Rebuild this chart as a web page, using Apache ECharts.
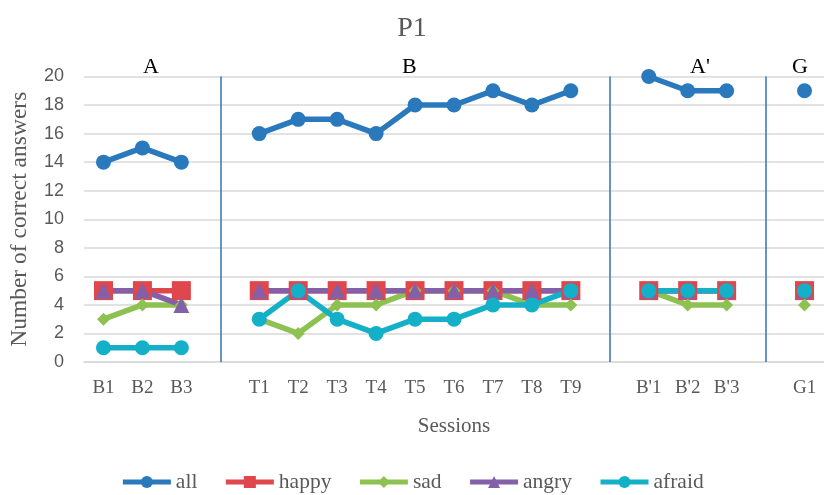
<!DOCTYPE html>
<html><head><meta charset="utf-8">
<script src="https://cdn.jsdelivr.net/npm/echarts@6/dist/echarts.min.js"></script>
<style>html,body{margin:0;padding:0;background:#fff}#c{width:824px;height:495px}</style>
</head><body><div id="c"></div>
<script>
const categories = ['B1','B2','B3','', 'T1','T2','T3','T4','T5','T6','T7','T8','T9',' ', "B'1","B'2","B'3",'  ','G1'];
const allVals    = [14,15,14,null,16,17,17,16,18,18,19,18,19,null,20,19,19,null,19];
const happyVals  = [5,5,5,null,5,5,5,5,5,5,5,5,5,null,5,5,5,null,5];
const sadVals    = [3,4,4,null,3,2,4,4,5,5,5,4,4,null,5,4,4,null,4];
const angryVals  = [5,5,4,null,5,5,5,5,5,5,5,5,5,null,5,5,5,null,5];
const afraidVals = [1,1,1,null,3,5,3,2,3,3,4,4,5,null,5,5,5,null,5];
const phaseLabels = ['A','B',"A'",'G'];
const dividerIdx = [3,13,17];

const serif = '"Liberation Serif","DejaVu Serif",serif';
const sans = '"Liberation Sans","Noto Sans",sans-serif';
const chart = echarts.init(document.getElementById('c'));
function mk(name, data, color, symbol, size, extra){
  return Object.assign({
    name, type:'line', data, connectNulls:false, symbol, symbolSize:size,
    lineStyle:{color, width:5.5}, itemStyle:{color, opacity:1}, color,
    emphasis:{disabled:true}, z:2
  }, extra||{});
}
chart.setOption({
  animation:false,
  title:{text:'P1', left:'center', top:10, textStyle:{fontFamily:serif, fontSize:28, fontWeight:'normal', color:'#595959'}},
  grid:{left:82, top:76.5, width:747, height:285.5, containLabel:false},
  xAxis:{type:'category', data:categories, boundaryGap:true,
    axisLine:{show:true, lineStyle:{color:'#d9d9d9', width:1.5}}, axisTick:{show:false},
    axisLabel:{fontFamily:serif, fontSize:19, color:'#595959', margin:17, interval:0},
    name:'Sessions', nameLocation:'middle', nameGap:54,
    nameTextStyle:{fontFamily:serif, fontSize:21, color:'#595959'}},
  yAxis:{type:'value', min:0, max:20, interval:2,
    axisLine:{show:false}, axisTick:{show:false},
    splitLine:{lineStyle:{color:'#d9d9d9', width:1.5}},
    axisLabel:{fontFamily:sans, fontSize:18, color:'#595959', margin:20},
    name:'Number of correct answers', nameLocation:'middle', nameGap:52,
    nameTextStyle:{fontFamily:serif, fontSize:23.5, color:'#595959'}},
  legend:{bottom:-3, left:'center', itemWidth:48, itemHeight:15, itemGap:26,
    lineStyle:{width:5},
    textStyle:{fontFamily:serif, fontSize:21.5, color:'#595959'},
    data:['all','happy','sad','angry','afraid']},
  graphic:[
    {type:'text', left:143, top:56, style:{text:phaseLabels[0], font:'22px '+serif, fill:'#000'}},
    {type:'text', left:402, top:56, style:{text:phaseLabels[1], font:'22px '+serif, fill:'#000'}},
    {type:'text', left:690, top:56, style:{text:phaseLabels[2], font:'22px '+serif, fill:'#000'}},
    {type:'text', left:792, top:56, style:{text:phaseLabels[3], font:'22px '+serif, fill:'#000'}}
  ],
  series:[
    mk('all', allVals, '#2A79BC', 'circle', 15, {
      markLine:{silent:true, symbol:'none', label:{show:false},
        lineStyle:{color:'#2E75B6', width:1.5, type:'solid'},
        data: dividerIdx.map(i=>({xAxis:i}))}
    }),
    mk('happy', happyVals, '#E0474C', 'rect', 19),
    mk('sad', sadVals, '#8DC253', 'diamond', 13),
    mk('angry', angryVals, '#8460A8', 'triangle', 16),
    mk('afraid', afraidVals, '#14B0C8', 'circle', 15)
  ]
});
</script></body></html>
